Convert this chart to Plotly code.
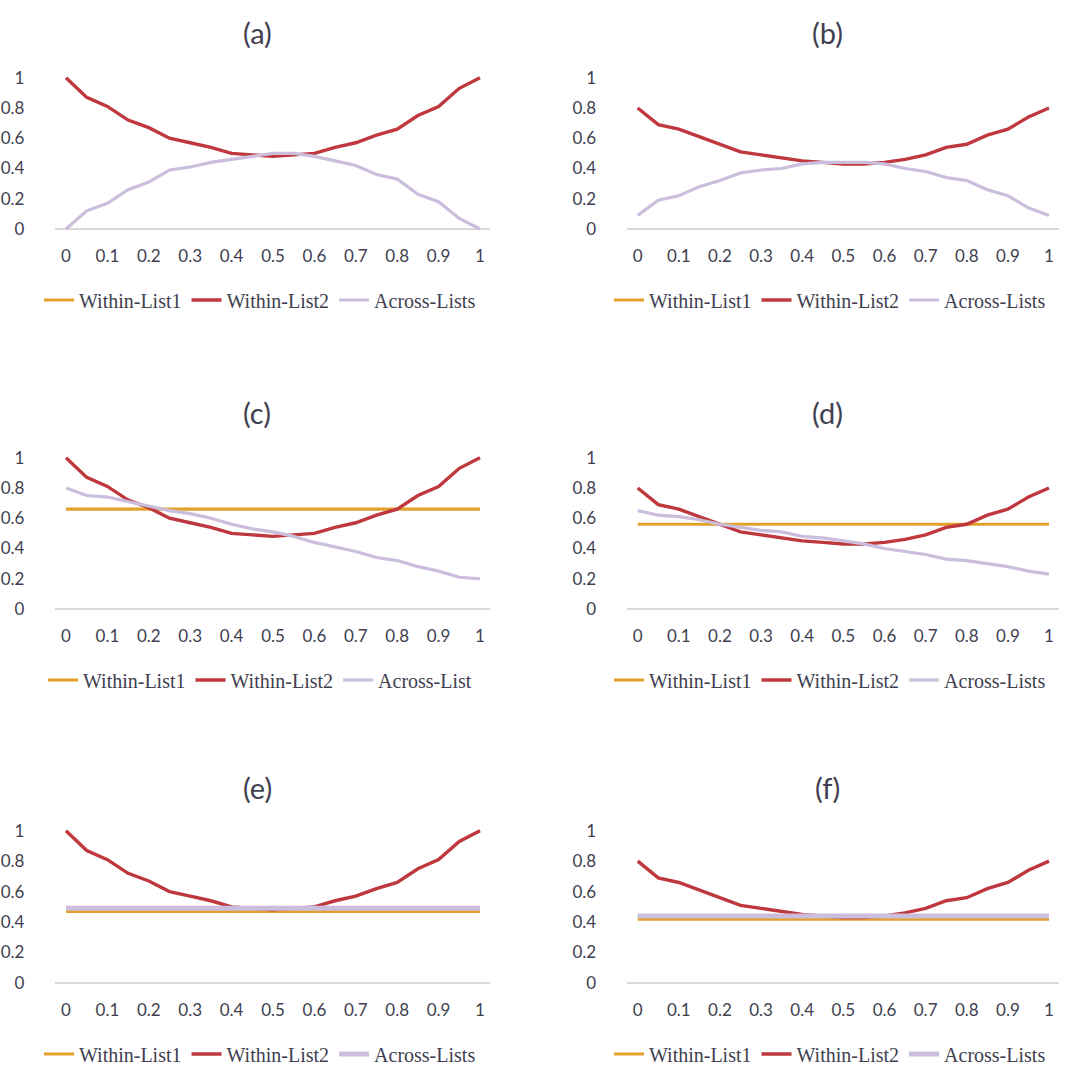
import plotly.graph_objects as go

# ---------------- data ----------------
X = [0, 0.05, 0.1, 0.15, 0.2, 0.25, 0.3, 0.35, 0.4, 0.45, 0.5,
     0.55, 0.6, 0.65, 0.7, 0.75, 0.8, 0.85, 0.9, 0.95, 1.0]
TICKVALS = [0, 0.1, 0.2, 0.3, 0.4, 0.5, 0.6, 0.7, 0.8, 0.9, 1.0]
TICKTEXT = ["0", "0.1", "0.2", "0.3", "0.4", "0.5", "0.6", "0.7", "0.8", "0.9", "1"]
YTICKVALS = [0, 0.2, 0.4, 0.6, 0.8, 1.0]
YTICKTEXT = ["0", "0.2", "0.4", "0.6", "0.8", "1"]

PANEL_TITLES = ["(a)", "(b)", "(c)", "(d)", "(e)", "(f)"]
SERIES_NAMES = ["Within-List1", "Within-List2", "Across-Lists"]
SERIES_NAMES_C = ["Within-List1", "Within-List2", "Across-List"]

# (a)
a_within1 = [None] * 21
a_within2 = [1.00, 0.87, 0.81, 0.72, 0.67, 0.60, 0.57, 0.54, 0.50, 0.49, 0.48,
             0.49, 0.50, 0.54, 0.57, 0.62, 0.66, 0.75, 0.81, 0.93, 1.00]
a_across = [0.00, 0.12, 0.17, 0.26, 0.31, 0.39, 0.41, 0.44, 0.46, 0.48, 0.50,
            0.50, 0.48, 0.45, 0.42, 0.36, 0.33, 0.23, 0.18, 0.07, 0.00]
# (b)
b_within1 = [None] * 21
b_within2 = [0.80, 0.69, 0.66, 0.61, 0.56, 0.51, 0.49, 0.47, 0.45, 0.44, 0.43,
             0.43, 0.44, 0.46, 0.49, 0.54, 0.56, 0.62, 0.66, 0.74, 0.80]
b_across = [0.09, 0.19, 0.22, 0.28, 0.32, 0.37, 0.39, 0.40, 0.43, 0.44, 0.44,
            0.44, 0.43, 0.40, 0.38, 0.34, 0.32, 0.26, 0.22, 0.14, 0.09]
# (c)
c_within1 = [0.66] * 21
c_within2 = a_within2
c_across = [0.80, 0.75, 0.74, 0.71, 0.68, 0.65, 0.63, 0.60, 0.56, 0.53, 0.51,
            0.48, 0.44, 0.41, 0.38, 0.34, 0.32, 0.28, 0.25, 0.21, 0.20]
# (d)
d_within1 = [0.56] * 21
d_within2 = b_within2
d_across = [0.65, 0.62, 0.61, 0.59, 0.56, 0.54, 0.52, 0.51, 0.48, 0.47, 0.45,
            0.43, 0.40, 0.38, 0.36, 0.33, 0.32, 0.30, 0.28, 0.25, 0.23]
# (e)
e_within1 = [0.47] * 21
e_within2 = a_within2
e_across = [0.49] * 21
# (f)
f_within1 = [0.42] * 21
f_within2 = b_within2
f_across = [0.44] * 21

PANELS = [
    (a_within1, a_within2, a_across, SERIES_NAMES),
    (b_within1, b_within2, b_across, SERIES_NAMES),
    (c_within1, c_within2, c_across, SERIES_NAMES_C),
    (d_within1, d_within2, d_across, SERIES_NAMES),
    (e_within1, e_within2, e_across, SERIES_NAMES),
    (f_within1, f_within2, f_across, SERIES_NAMES),
]

# ---------------- style ----------------
W, H = 1083, 1065
COL_W1 = "#E3A12C"
COL_W2 = "#BE383E"
COL_AC = "#CBBDDC"
TEXT_COL = "#404050"
SANS = "Lato, 'Open Sans', sans-serif"
SERIF = "'Liberation Serif', 'DejaVu Serif', serif"

# pixel geometry (page coordinates) of each plot (data 0 and data 1 positions)
COLS = [(66, 480), (637.7, 1049)]
ROWS = [(229, 77.7), (609, 457.7), (983, 830.7)]
TITLE_Y = [32, 412, 787]
LEGEND_Y = [300, 680, 1054]
TITLE_DX = -16
LEGEND_CX = [260, 830]

fig = go.Figure()

XPAD_L, XPAD_R = 0.027, 0.024
YPAD = 0.02

for i, (w1, w2, ac, names) in enumerate(PANELS):
    r, c = divmod(i, 2)
    x0p, x1p = COLS[c]
    y0p, y1p = ROWS[r]
    xs = (x1p - x0p)
    ys = (y0p - y1p)
    dom_x = [(x0p - XPAD_L * xs) / W, (x1p + XPAD_R * xs) / W]
    dom_y = [1 - (y0p + YPAD * ys) / H, 1 - (y1p - YPAD * ys) / H]
    n = "" if i == 0 else str(i + 1)
    leg = "legend" if i == 0 else "legend" + str(i + 1)
    ac_w = 5 if i >= 4 else 3.2
    for yv, nm, col, lw in [(w1, names[0], COL_W1, 3.2),
                            (w2, names[1], COL_W2, 3.4),
                            (ac, names[2], COL_AC, ac_w)]:
        fig.add_trace(go.Scatter(
            x=X, y=yv, name=nm, mode="lines",
            line=dict(color=col, width=lw),
            xaxis="x" + n, yaxis="y" + n, legend=leg, showlegend=True,
        ))
    fig.layout["xaxis" + n] = dict(
        domain=dom_x, range=[-XPAD_L, 1 + XPAD_R], anchor="y" + n,
        tickvals=TICKVALS, ticktext=TICKTEXT, showgrid=False, zeroline=False,
        showline=False, ticks="outside", ticklen=9, tickcolor="rgba(0,0,0,0)",
        tickfont=dict(family=SANS, size=17, color=TEXT_COL), fixedrange=True,
    )
    fig.layout["yaxis" + n] = dict(
        domain=dom_y, range=[-YPAD, 1 + YPAD], anchor="x" + n,
        tickvals=YTICKVALS, ticktext=YTICKTEXT, showgrid=False,
        zeroline=True, zerolinecolor="#D9D9D9", zerolinewidth=1.5,
        showline=False, ticks="outside", ticklen=26, tickcolor="rgba(0,0,0,0)",
        tickfont=dict(family=SANS, size=17, color=TEXT_COL), fixedrange=True,
    )
    fig.add_annotation(
        text=PANEL_TITLES[i], xref="paper", yref="paper",
        x=((x0p + x1p) / 2 + TITLE_DX) / W,
        y=1 - TITLE_Y[r] / H,
        xanchor="center", yanchor="middle", showarrow=False,
        font=dict(family=SANS, size=29, color=TEXT_COL),
    )
    fig.layout[leg] = dict(
        orientation="h", x=LEGEND_CX[c] / W, y=1 - LEGEND_Y[r] / H,
        xanchor="center", yanchor="middle", bgcolor="rgba(0,0,0,0)",
        font=dict(family=SERIF, size=20, color=TEXT_COL),
        itemwidth=30, tracegroupgap=0,
    )

fig.update_layout(
    width=W, height=H, margin=dict(l=0, r=0, t=0, b=0, autoexpand=False),
    paper_bgcolor="white", plot_bgcolor="white",
)

# remove the default page margin so the figure fills the window exactly
fig.write_html(
    "out.html",
    config={"displayModeBar": False},
    post_script="document.body.style.margin='0';document.body.style.overflow='hidden';",
)
